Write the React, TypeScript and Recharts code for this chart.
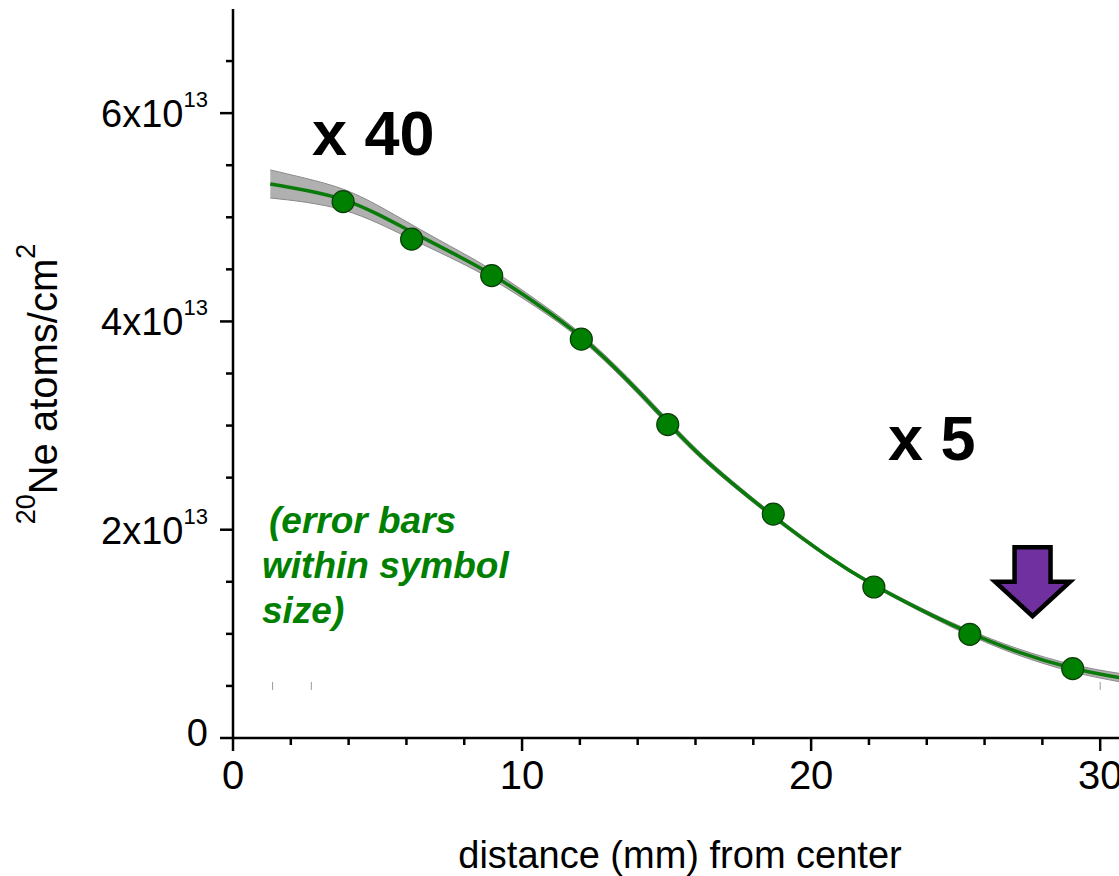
import React from "react"
import {
  ComposedChart,
  XAxis,
  YAxis,
  Line,
  Area,
  Scatter,
  ReferenceDot,
} from "recharts"

// values in units of 1e13 atoms/cm^2
const pointX = [3.81, 6.18, 8.95, 12.05, 15.04, 18.69, 22.17, 25.49, 29.05]
const pointY = [5.15, 4.79, 4.44, 3.83, 3.01, 2.15, 1.45, 0.995, 0.666]

const fitX = [1.29, 2.5, 3.81, 5.0, 6.18, 7.5, 8.95, 10.5, 12.05, 13.63, 15.04, 16.5, 18.69, 20.5, 22.17, 24.24, 25.49, 27.13, 29.05, 30.67]
const fitY = [5.32, 5.26, 5.17, 5.03, 4.86, 4.67, 4.45, 4.17, 3.85, 3.44, 3.03, 2.63, 2.13, 1.76, 1.47, 1.17, 1.01, 0.83, 0.67, 0.58]
const bandLow = [5.185, 5.145, 5.07, 4.945, 4.79, 4.615, 4.405, 4.135, 3.82, 3.41, 3.0, 2.605, 2.11, 1.745, 1.455, 1.15, 0.985, 0.8, 0.635, 0.54]
const bandHigh = [5.455, 5.375, 5.27, 5.115, 4.93, 4.725, 4.495, 4.205, 3.88, 3.47, 3.06, 2.655, 2.15, 1.775, 1.485, 1.19, 1.035, 0.86, 0.705, 0.62]

const markX = [1.37, 2.71, 30.0]
const markY = [0.5, 0.5, 0.5]

const xTicks = [0, 2, 4, 6, 8, 10, 12, 14, 16, 18, 20, 22, 24, 26, 28, 30, 32]
const yTicks = [0, 0.5, 1, 1.5, 2, 2.5, 3, 3.5, 4, 4.5, 5, 5.5, 6, 6.5]

const points = pointX.map((x, i) => ({ x, y: pointY[i] }))
const fit = fitX.map((x, i) => ({ x, y: fitY[i], band: [bandLow[i], bandHigh[i]] }))
const marks = markX.map((x, i) => ({ x, y: markY[i] }))

const FONT = "'Liberation Sans', Arial, sans-serif"
const GREEN = "#008000"

const XTick = (props: any) => {
  const { x, y, payload } = props
  const v = payload.value
  const major = v % 10 === 0
  return (
    <g>
      <line x1={x} x2={x} y1={y} y2={y + (major ? 13 : 7)} stroke="#000" strokeWidth={2.5} />
      {major && (
        <text x={x} y={y + 51} textAnchor="middle" fontSize={40} fontFamily={FONT} fill="#000">
          {v}
        </text>
      )}
    </g>
  )
}

const YTick = (props: any) => {
  const { x, y, payload } = props
  const v = payload.value
  const major = v % 2 === 0
  return (
    <g>
      <line x1={x - (major ? 13 : 7)} x2={x} y1={y} y2={y} stroke="#000" strokeWidth={2.5} />
      {major && v === 0 && (
        <text x={x - 25} y={y + 7.5} textAnchor="end" fontSize={38} fontFamily={FONT} fill="#000">
          0
        </text>
      )}
      {major && v !== 0 && (
        <text x={x - 25} y={y + 14} textAnchor="end" fontFamily={FONT} fill="#000">
          <tspan fontSize={38}>{v}x10</tspan>
          <tspan fontSize={22} dy={-20}>13</tspan>
        </text>
      )}
    </g>
  )
}

const Arrow = (props: any) => {
  const { cx, cy } = props
  const pts = [
    [cx - 18, cy - 69],
    [cx + 18, cy - 69],
    [cx + 18, cy - 34.5],
    [cx + 37.5, cy - 34.5],
    [cx, cy],
    [cx - 37.5, cy - 34.5],
    [cx - 18, cy - 34.5],
  ]
  return (
    <polygon
      points={pts.map((p) => p.join(",")).join(" ")}
      fill="#7030A0"
      stroke="#000"
      strokeWidth={4.5}
      strokeLinejoin="miter"
    />
  )
}

const App = () => {
  return (
    <div
      style={{
        position: "fixed",
        left: 0,
        top: 0,
        width: 1119,
        height: 876,
        overflow: "hidden",
        background: "#fff",
      }}
    >
      <ComposedChart width={1158} height={876} margin={{ top: 9, right: 0, bottom: 0, left: 0 }}>
        <XAxis
          type="number"
          dataKey="x"
          domain={[0, 32]}
          ticks={xTicks}
          interval={0}
          tick={<XTick />}
          tickLine={false}
          tickSize={0}
          tickMargin={0}
          height={138}
          axisLine={{ stroke: "#000", strokeWidth: 2.5 }}
          allowDataOverflow
        />
        <XAxis
          xAxisId="top"
          orientation="top"
          type="number"
          domain={[0, 32]}
          height={0}
          tick={false}
          tickLine={false}
          axisLine={{ stroke: "#000", strokeWidth: 2.5 }}
        />
        <YAxis
          type="number"
          dataKey="y"
          domain={[0, 7]}
          ticks={yTicks}
          interval={0}
          tick={<YTick />}
          tickLine={false}
          tickSize={0}
          tickMargin={0}
          width={233}
          axisLine={{ stroke: "#000", strokeWidth: 2.5 }}
          allowDataOverflow
        />
        <Area
          data={fit}
          dataKey="band"
          type="natural"
          fill="#b0b0b0"
          fillOpacity={1}
          stroke="#8a8a8a"
          strokeWidth={1}
          isAnimationActive={false}
          activeDot={false}
        />
        <Line
          data={fit}
          dataKey="y"
          type="natural"
          stroke="#0a7a0a"
          strokeWidth={3.5}
          dot={false}
          activeDot={false}
          isAnimationActive={false}
        />
        <Scatter
          data={marks}
          dataKey="y"
          isAnimationActive={false}
          shape={(p: any) => (
            <line x1={p.cx} x2={p.cx} y1={p.cy - 4} y2={p.cy + 4} stroke="#999" strokeWidth={1} />
          )}
        />
        <Scatter
          data={points}
          dataKey="y"
          isAnimationActive={false}
          shape={(p: any) => (
            <circle cx={p.cx} cy={p.cy} r={11} fill={GREEN} stroke="#0b3d0b" strokeWidth={1.2} />
          )}
        />
        <ReferenceDot x={27.66} y={1.17} r={0} shape={<Arrow />} ifOverflow="visible" />
      </ComposedChart>
      <svg
        width={1119}
        height={876}
        style={{ position: "absolute", left: 0, top: 0, pointerEvents: "none" }}
      >
        <text x={312} y={155} fontSize={63} fontWeight="bold" fontFamily={FONT} fill="#000">
          x 40
        </text>
        <text x={888} y={460} fontSize={63} fontWeight="bold" fontFamily={FONT} fill="#000">
          x 5
        </text>
        <g fontSize={37} fontWeight="bold" fontStyle="italic" fontFamily={FONT} fill={GREEN}>
          <text x={269} y={533}>(error bars</text>
          <text x={262} y={578}>within symbol</text>
          <text x={262} y={623}>size)</text>
        </g>
        <text x={680} y={868} textAnchor="middle" fontSize={38} fontFamily={FONT} fill="#000">
          distance (mm) from center
        </text>
        <text
          x={57}
          y={384}
          textAnchor="middle"
          fontFamily={FONT}
          fill="#000"
          transform="rotate(-90, 57, 384)"
        >
          <tspan fontSize={27} dy={-22}>20</tspan>
          <tspan fontSize={40} dy={22}>Ne atoms/cm</tspan>
          <tspan fontSize={27} dy={-22}>2</tspan>
        </text>
      </svg>
    </div>
  )
}

export default App
